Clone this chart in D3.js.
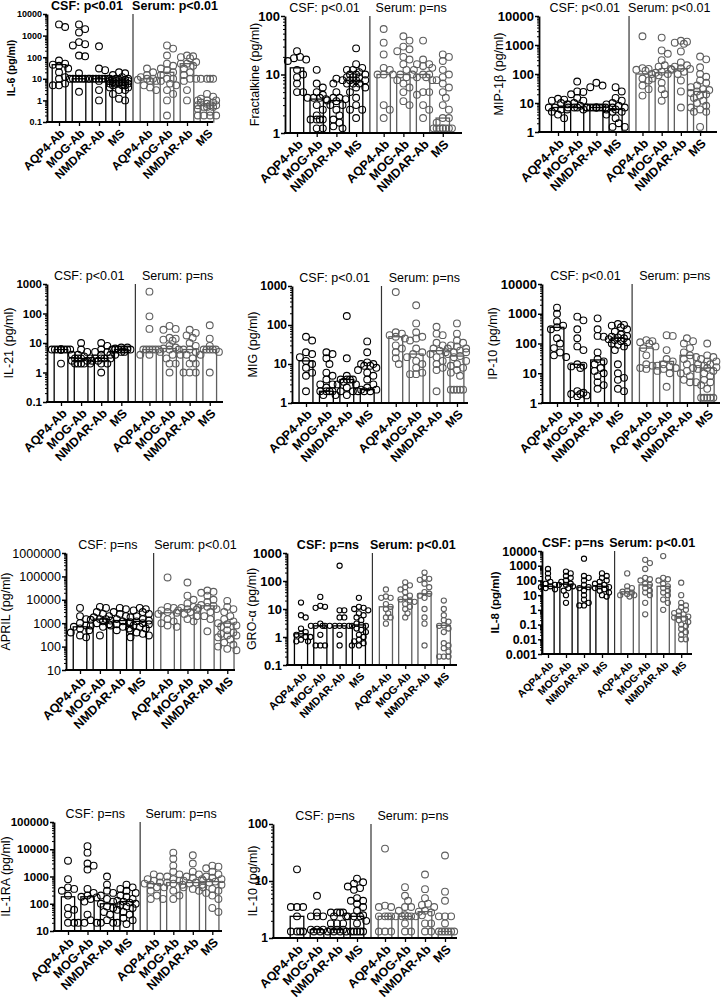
<!DOCTYPE html>
<html>
<head>
<meta charset="utf-8">
<script src="https://cdn.jsdelivr.net/npm/d3@7"></script>
<style>
  body { margin: 0; background: #fff; }
  svg { display: block; font-family: Arial, "Liberation Sans", sans-serif; }
</style>
</head>
<body>
<svg width="721" height="1000"></svg>
<script>
const groups = ["AQP4-Ab", "MOG-Ab", "NMDAR-Ab", "MS"];

// IL-6
const il6Domain = [0.1, 10000];
const il6Titles = ["CSF: p<0.01", "Serum: p<0.01"];
const il6Medians = [45, 10, 10, 8, 10, 20, 50, 0.6];
const il6Values = [
  [3300, 2500, 70, 50, 45, 40, 30, 20, 12, 10, 5, 5, 6],
  [3300, 2000, 1400, 500, 400, 350, 120, 110, 18, 10, 10, 10, 10, 10, 10, 10, 2.5],
  [320, 30, 25, 10, 10, 10, 10, 10, 10, 10, 8, 3, 1],
  [20, 18, 15, 12, 10, 10, 9, 9, 8, 8, 8, 7, 7, 7, 6, 6, 6, 5, 5, 5, 4, 4, 3, 3, 2, 1, 1.2, 8, 9, 10, 7, 6],
  [30, 20, 15, 12, 10, 10, 9, 8, 8, 5, 4, 3],
  [350, 250, 120, 50, 40, 30, 25, 20, 15, 10, 8, 5, 3, 2, 1, 0.2, 10, 6],
  [120, 110, 100, 90, 60, 50, 50, 40, 30, 20, 10, 10, 8, 3, 1, 15],
  [10, 10, 10, 10, 2, 1.5, 1.2, 1, 1, 0.8, 0.7, 0.6, 0.6, 0.5, 0.5, 0.5, 0.4, 0.3, 0.2, 0.2, 0.2, 0.2, 1, 0.8, 0.6]
];

// Fractalkine
const fkDomain = [1, 100];
const fkTitles = ["CSF: p<0.01", "Serum: p=ns"];
const fkMedians = [13, 3.8, 3.6, 7.5, 10, 10, 10, 1.8];
const fkValues = [
  [25, 20, 19, 18, 17, 12, 10, 9, 7, 5, 5],
  [12, 7, 6, 5, 4, 4, 4, 3.8, 3, 2.5, 2, 1.7, 1.7, 1.7, 1.7, 1.2, 1.2, 4.5],
  [8.5, 8, 7, 5, 4, 3.8, 3.5, 3, 3, 2.5, 2, 1.7, 1.5, 1.3, 1.2, 3.6, 4],
  [28, 15, 13, 12, 12, 11, 10, 10, 9, 9, 8, 8, 8, 7, 7, 6, 6, 5, 4, 3, 2.5, 2.5, 1.8, 10, 9, 7],
  [60, 35, 22, 13, 12, 10, 10, 10, 3, 2.5, 1.8],
  [45, 38, 30, 27, 25, 20, 18, 15, 12, 10, 10, 9, 8, 7, 6, 5, 3, 3.5],
  [38, 18, 15, 15, 14, 13, 12, 10, 10, 9, 9, 8, 5, 5, 4.5, 3, 2.5, 1.8],
  [22, 20, 17, 12, 10, 9, 8, 7, 6, 5, 4, 3, 2.5, 1.8, 1.8, 1.2, 1.2, 1.2, 1.2, 1.2, 1.2, 1.2, 1.2, 1.5]
];

// MIP-1b
const mipDomain = [1, 10000];
const mipTitles = ["CSF: p<0.01", "Serum: p<0.01"];
const mipMedians = [7, 7, 7, 6, 100, 110, 150, 25];
const mipValues = [
  [14, 13, 12, 10, 9, 7, 7, 6, 6, 5, 4, 3],
  [55, 25, 24, 20, 15, 12, 10, 9, 8, 7, 7, 7, 7, 6],
  [50, 40, 35, 7, 7, 7, 7, 7, 7, 7, 7, 7],
  [35, 25, 15, 12, 10, 9, 8, 7, 7, 6, 6, 5, 5, 4, 3, 1.5, 1.5, 2],
  [2000, 160, 150, 140, 130, 100, 70, 60, 40, 30, 18],
  [1800, 650, 500, 300, 200, 180, 150, 120, 110, 100, 90, 70, 50, 30, 20, 12],
  [1400, 1300, 1200, 1100, 600, 250, 200, 180, 160, 150, 140, 120, 100, 60, 25, 7],
  [400, 320, 170, 100, 80, 60, 50, 40, 35, 30, 28, 25, 22, 20, 18, 15, 12, 10, 8, 7, 6, 5, 5, 1.5]
];

// IL-21
const il21Domain = [0.1, 1000];
const il21Titles = ["CSF: p<0.01", "Serum: p=ns"];
const il21Medians = [6, 3, 3, 6, 6, 6.5, 6, 6];
const il21Values = [
  [6, 6, 6, 6, 6, 6, 6, 6, 6, 6, 2],
  [10, 6, 5, 4, 4, 3.5, 3, 3, 3, 3, 2.5, 2.5, 2, 2, 2, 2, 2],
  [10, 8, 6, 5, 5, 4, 4, 3, 3, 3, 3, 2.5, 2.5, 2, 2, 1],
  [7, 7, 6.5, 6, 6, 6, 6, 6, 6, 6, 5, 5, 4],
  [550, 80, 30, 6, 6, 6, 6, 6, 6, 4, 4],
  [38, 30, 28, 15, 14, 13, 12, 8, 7, 6.5, 6, 6, 5, 4, 3, 2, 2, 1],
  [28, 22, 18, 15, 10, 8, 6, 6, 5, 4, 4, 3, 2, 2, 1, 1, 1],
  [40, 14, 8, 6, 6, 6, 6, 6, 5, 4, 1]
];

// MIG
const migDomain = [1, 1000];
const migTitles = ["CSF: p<0.01", "Serum: p=ns"];
const migMedians = [12, 2, 4, 2.2, 50, 18, 22, 16];
const migValues = [
  [50, 40, 20, 18, 15, 12, 10, 8, 6, 5, 2],
  [20, 18, 14, 10, 6, 5, 4, 3, 3, 2.5, 2, 2, 2, 2, 1.6, 1.6],
  [170, 14, 5, 4, 4, 4, 4, 3.5, 3, 3, 2.5, 2, 2, 1.6],
  [38, 20, 11, 10, 9, 8, 7, 6, 5, 4, 3, 2.5, 2.2, 2.2, 2, 2, 2, 10, 9],
  [700, 65, 60, 55, 50, 45, 30, 25, 20, 14, 10],
  [320, 110, 65, 50, 45, 40, 25, 20, 18, 15, 12, 10, 8, 6, 5.5, 5.5],
  [90, 60, 55, 35, 30, 25, 22, 20, 18, 15, 12, 10, 8, 7, 2],
  [110, 60, 40, 35, 30, 28, 25, 22, 20, 18, 16, 15, 12, 10, 9, 8, 7, 6, 5, 2.2, 2.2, 2.2, 2.2, 2.2, 20, 25]
];

// IP-10
const ipDomain = [1, 10000];
const ipTitles = ["CSF: p<0.01", "Serum: p=ns"];
const ipMedians = [350, 20, 28, 150, 70, 25, 40, 15];
const ipValues = [
  [1600, 1000, 550, 400, 350, 300, 150, 100, 70, 50, 40, 35],
  [800, 600, 300, 150, 80, 60, 20, 18, 17, 15, 2.5, 2.2, 2, 2, 1.8, 1.7],
  [700, 300, 180, 170, 50, 30, 25, 20, 15, 12, 10, 8, 5, 4, 3],
  [450, 420, 400, 350, 300, 250, 200, 180, 170, 160, 150, 140, 130, 120, 110, 100, 90, 80, 60, 20, 10, 7, 6, 3, 2.5],
  [130, 120, 110, 100, 80, 70, 40, 20, 18, 15, 14],
  [190, 180, 60, 30, 25, 20, 18, 17, 15, 14, 12, 10, 3.5],
  [150, 120, 100, 70, 50, 40, 35, 30, 20, 15, 12, 10, 8, 6, 5, 5],
  [100, 40, 35, 30, 25, 20, 18, 16, 15, 14, 12, 10, 8, 6, 5, 4, 3, 1.5, 1.5, 1.5, 1.5, 1.5, 20, 25]
];

// APRIL
const aprilDomain = [10, 1000000];
const aprilTitles = ["CSF: p=ns", "Serum: p<0.01"];
const aprilMedians = [700, 1500, 1300, 1200, 2800, 3800, 5500, 1000];
const aprilValues = [
  [4500, 2000, 1500, 1000, 800, 700, 600, 500, 400, 300, 250],
  [4500, 5000, 3000, 2500, 2000, 1800, 1500, 1500, 1400, 1200, 1000, 900, 800, 700, 300],
  [4500, 4000, 3000, 2500, 2000, 1500, 1300, 1200, 1000, 900, 800, 700, 600, 500],
  [4500, 4000, 3500, 3000, 2500, 2000, 1800, 1500, 1300, 1200, 1100, 1000, 900, 800, 700, 600, 500, 400, 350, 300, 250],
  [90000, 5000, 4500, 3500, 3000, 2800, 2500, 1500, 1200, 1000, 800, 700],
  [55000, 15000, 10000, 7000, 5000, 4500, 4000, 3800, 3500, 3000, 2500, 2000, 1500, 1200],
  [25000, 22000, 20000, 15000, 10000, 8000, 6000, 5500, 5000, 4500, 4000, 3000, 2000, 1500, 450],
  [9000, 5000, 4000, 3000, 2000, 1500, 1200, 1000, 900, 800, 700, 500, 400, 350, 300, 300, 250, 200, 150, 120, 100, 80, 70]
];

// GRO-alpha
const groDomain = [0.1, 1000];
const groTitles = ["CSF: p=ns", "Serum: p<0.01"];
const groMedians = [1.3, 2.5, 2.5, 2.7, 12, 22, 35, 2.6];
const groValues = [
  [17, 6, 5, 2, 1.5, 1.3, 1.2, 1, 1, 0.8, 0.7, 0.7],
  [27, 13, 12, 11, 3, 2.5, 2.5, 2.5, 2.5, 2.5, 1.2, 0.5, 0.5, 0.5],
  [350, 9, 9, 5, 5, 2.5, 2.5, 2.5, 2.5, 1.2, 0.5],
  [25, 12, 11, 10, 9, 7, 6, 5, 4, 3, 2.7, 2.5, 2.5, 2, 1.8, 1.5, 1.2, 1, 0.8, 0.7, 0.6, 0.5, 0.5],
  [50, 28, 25, 25, 15, 12, 10, 7, 5, 5, 3],
  [90, 70, 60, 50, 40, 30, 25, 22, 20, 18, 15, 12, 10, 7, 5],
  [200, 130, 120, 110, 80, 60, 40, 35, 30, 25, 10, 5, 3, 0.5],
  [20, 10, 6, 4, 3.5, 2.6, 2.5, 2, 1.5, 0.6, 0.5, 0.4, 0.3, 0.2, 0.2, 0.2]
];

// IL-8
const il8Domain = [0.001, 10000];
const il8Titles = ["CSF: p=ns", "Serum: p<0.01"];
const il8Medians = [40, 55, 35, 40, 17, 50, 40, 0.35];
const il8Values = [
  [600, 300, 150, 80, 60, 50, 40, 35, 30, 25],
  [400, 300, 200, 150, 100, 80, 60, 50, 40, 30, 20, 10, 3, 50],
  [3000, 200, 150, 100, 50, 35, 30, 20, 10, 5, 3, 2, 2],
  [300, 200, 150, 100, 80, 60, 50, 40, 35, 30, 25, 20, 15, 10, 8],
  [300, 40, 30, 20, 17, 15, 12, 10, 10, 8],
  [2500, 1500, 600, 150, 120, 100, 60, 50, 30, 20, 15, 10, 3, 0.5],
  [4500, 150, 120, 100, 60, 40, 30, 20, 15, 10, 5, 3, 1],
  [70, 10, 3, 2, 1.5, 1, 0.8, 0.6, 0.5, 0.4, 0.35, 0.3, 0.25, 0.2, 0.15, 0.1, 0.08, 0.05, 0.03, 0.02, 0.01, 0.01]
];

// IL-1RA
const il1raDomain = [10, 100000];
const il1raTitles = ["CSF: p=ns", "Serum: p=ns"];
const il1raMedians = [180, 180, 100, 120, 550, 600, 600, 650];
const il1raValues = [
  [3800, 800, 400, 350, 300, 200, 70, 60, 40, 20, 20],
  [13000, 7500, 3000, 2500, 1800, 350, 250, 200, 180, 170, 150, 120, 40, 25, 20, 20, 20],
  [1000, 500, 300, 250, 200, 150, 120, 100, 80, 70, 50, 40, 25, 20, 20],
  [500, 400, 350, 300, 250, 200, 180, 150, 130, 120, 110, 100, 90, 80, 70, 60, 50, 40, 30, 25, 20, 18],
  [1200, 1000, 800, 700, 600, 550, 500, 400, 300, 200, 150, 150],
  [7500, 4500, 2500, 1500, 1200, 1000, 800, 700, 600, 550, 500, 400, 300, 200, 150],
  [6000, 3000, 1500, 1200, 1000, 900, 800, 700, 600, 550, 500, 400, 350, 300],
  [2500, 2300, 2000, 1500, 1200, 1000, 900, 800, 700, 650, 600, 500, 400, 350, 300, 250, 200, 150, 70, 50]
];

// IL-10
const il10Domain = [1, 100];
const il10Titles = ["CSF: p=ns", "Serum: p=ns"];
const il10Medians = [2.4, 1.4, 1.4, 2.4, 2.4, 2.4, 2.9, 1.3];
const il10Values = [
  [16, 3.5, 3.5, 3.5, 2.4, 1.3, 1.3, 1.3, 1.3],
  [5.5, 2.8, 2.4, 2.4, 2.4, 1.4, 1.4, 1.4, 1.3, 1.3],
  [2.8, 2.8, 2.8, 2.8, 2.4, 2.4, 1.8, 1.8, 1.8, 1.4, 1.4, 1.4, 1.3, 1.3, 1.3, 1.3],
  [11, 9.5, 9, 8, 7.5, 7, 5, 4.5, 4.5, 4, 3.5, 3, 2.5, 2.4, 2.4, 2.4, 2, 1.8, 1.3, 1.3, 1.3, 1.3, 1.3],
  [37, 3.7, 3.5, 3.5, 2.4, 2.4, 2.4, 2.4, 1.3, 1.3, 1.3],
  [7.8, 5.5, 4.5, 3.5, 3.5, 3, 2.5, 2.4, 2.4, 2.4, 2.4, 1.8, 1.3, 1.3],
  [13, 7.2, 5, 4, 3.8, 3.5, 3, 2.9, 2.8, 2.5, 2.4, 1.8, 1.8, 1.3, 1.3],
  [28, 6.5, 4.5, 2.4, 2.4, 2.4, 1.8, 1.3, 1.3, 1.3, 1.3, 1.3, 1.3]
];

const panels = [
  { label: "IL-6 (pg/ml)", domain: il6Domain, titles: il6Titles, medians: il6Medians, values: il6Values },
  { label: "Fractalkine (pg/ml)", domain: fkDomain, titles: fkTitles, medians: fkMedians, values: fkValues },
  { label: "MIP-1β (pg/ml)", domain: mipDomain, titles: mipTitles, medians: mipMedians, values: mipValues },
  { label: "IL-21 (pg/ml)", domain: il21Domain, titles: il21Titles, medians: il21Medians, values: il21Values },
  { label: "MIG (pg/ml)", domain: migDomain, titles: migTitles, medians: migMedians, values: migValues },
  { label: "IP-10 (pg/ml)", domain: ipDomain, titles: ipTitles, medians: ipMedians, values: ipValues },
  { label: "APRIL (pg/ml)", domain: aprilDomain, titles: aprilTitles, medians: aprilMedians, values: aprilValues },
  { label: "GRO-α (pg/ml)", domain: groDomain, titles: groTitles, medians: groMedians, values: groValues },
  { label: "IL-8 (pg/ml)", domain: il8Domain, titles: il8Titles, medians: il8Medians, values: il8Values },
  { label: "IL-1RA (pg/ml)", domain: il1raDomain, titles: il1raTitles, medians: il1raMedians, values: il1raValues },
  { label: "IL-10 (pg/ml)", domain: il10Domain, titles: il10Titles, medians: il10Medians, values: il10Values }
];

// placement and text style of each panel (lx = centre of the y label)
const layout = [
  { x: 47,  top: 14,  bottom: 122, c0: 59,  step: 20,   end: 213, lx: 11,  tf: 9,    tb: true,  ttb: true,  lb: true,  lf: 10.5, xf: 12,   r: 3.4 },
  { x: 285, top: 16,  bottom: 133, c0: 297, step: 19.7, end: 462, lx: 255, tf: 13,   tb: true,  ttb: false, lb: false, lf: 12.5, xf: 12.5, r: 3.4 },
  { x: 539, top: 16,  bottom: 132, c0: 558, step: 19.2, end: 717, lx: 499, tf: 13,   tb: true,  ttb: false, lb: false, lf: 12.5, xf: 12.5, r: 3.4 },
  { x: 47,  top: 284, bottom: 402, c0: 61,  step: 20.1, end: 223, lx: 9,   tf: 11.5, tb: true,  ttb: false, lb: false, lf: 12.5, xf: 12.5, r: 3.4 },
  { x: 292, top: 286, bottom: 403, c0: 306, step: 20.4, end: 468, lx: 253, tf: 12,   tb: true,  ttb: false, lb: false, lf: 12.5, xf: 12.5, r: 3.4 },
  { x: 542, top: 284, bottom: 403, c0: 557, step: 20.3, end: 720, lx: 493, tf: 13,   tb: true,  ttb: false, lb: false, lf: 12.5, xf: 12.5, r: 3.4 },
  { x: 66,  top: 553, bottom: 670, c0: 80,  step: 19.9, end: 235, lx: 6,   tf: 12.5, tb: false, ttb: false, lb: false, lf: 12.5, xf: 12.5, r: 3.4 },
  { x: 287, top: 553, bottom: 665, c0: 301, step: 19.3, end: 457, lx: 252, tf: 13,   tb: true,  ttb: true,  lb: false, lf: 12.5, xf: 11,   r: 2.6 },
  { x: 542, top: 551, bottom: 654, c0: 548, step: 18,   end: 692, lx: 495, tf: 12.5, tb: true,  ttb: true,  lb: true,  lf: 11.5, xf: 10.5, r: 2.6 },
  { x: 54,  top: 822, bottom: 931, c0: 68,  step: 19.5, end: 222, lx: 6,   tf: 11.5, tb: true,  ttb: false, lb: false, lf: 12.5, xf: 12.5, r: 3.4 },
  { x: 273, top: 824, bottom: 938, c0: 297, step: 20,   end: 457, lx: 253, tf: 12,   tb: true,  ttb: false, lb: false, lf: 12.5, xf: 12.5, r: 3.4 }
];

const csfColor = "#000";
const serumColor = "#5e5e5e";
const svg = d3.select("svg");

// spread points of one group sideways so equal values sit in a row
function spread(ys, r, maxOff) {
  const order = d3.range(ys.length).sort((a, b) => ys[a] - ys[b]);
  const cands = [0];
  for (let k = 1; k * r * 0.9 <= maxOff; k++) cands.push(k * r * 0.9, -k * r * 0.9);
  const placed = [];
  const offs = [];
  order.forEach(i => {
    let best = 0, bestD = -1;
    for (const c of cands) {
      let dmin = Infinity;
      placed.forEach(q => { dmin = Math.min(dmin, Math.hypot(q[0] - c, q[1] - ys[i])); });
      if (dmin >= 2 * r * 0.85) { best = c; break; }
      if (dmin > bestD) { bestD = dmin; best = c; }
    }
    offs[i] = best;
    placed.push([best, ys[i]]);
  });
  return offs;
}

function drawPanel(p, L) {
  const g = svg.append("g");
  const y = d3.scaleLog().domain(p.domain).range([L.bottom, L.top]);
  const xCsf = d3.scalePoint().domain(groups).range([L.c0, L.c0 + 3 * L.step]);
  const xSer = d3.scalePoint().domain(groups).range([L.c0 + 4.4 * L.step, L.c0 + 7.4 * L.step]);
  const lo = Math.round(Math.log10(p.domain[0]));
  const hi = Math.round(Math.log10(p.domain[1]));
  const decades = d3.range(lo, hi + 1).map(k => +("1e" + k));
  const minors = [];
  d3.range(lo, hi).forEach(k => { for (let m = 2; m < 10; m++) minors.push(m * +("1e" + k)); });

  // bars and points
  const bw = L.step * 0.68;
  const sections = [
    { x: xCsf, color: csfColor, med: p.medians.slice(0, 4), vals: p.values.slice(0, 4) },
    { x: xSer, color: serumColor, med: p.medians.slice(4), vals: p.values.slice(4) }
  ];
  sections.forEach(s => {
    g.selectAll(null).data(groups).enter().append("rect")
      .attr("x", d => s.x(d) - bw / 2)
      .attr("y", (d, i) => y(s.med[i]))
      .attr("width", bw)
      .attr("height", (d, i) => L.bottom - y(s.med[i]))
      .attr("fill", "#fff")
      .attr("stroke", s.color)
      .attr("stroke-width", 1.3);
    groups.forEach((grp, i) => {
      const ys = s.vals[i].map(v => y(v));
      const offs = spread(ys, L.r, L.step * 0.5);
      g.selectAll(null).data(s.vals[i]).enter().append("circle")
        .attr("cx", (d, j) => s.x(grp) + offs[j])
        .attr("cy", d => y(d))
        .attr("r", L.r)
        .attr("fill", "none")
        .attr("stroke", s.color)
        .attr("stroke-width", 1.1);
    });
  });

  // divider between CSF and serum
  const divX = L.c0 + 3.7 * L.step;
  g.append("line")
    .attr("x1", divX).attr("x2", divX)
    .attr("y1", L.top).attr("y2", L.bottom)
    .attr("stroke", "#333").attr("stroke-width", 1.2);

  // y axis
  g.append("g")
    .attr("transform", `translate(${L.x},0)`)
    .call(d3.axisLeft(y).tickValues(minors).tickSize(2).tickFormat(""))
    .call(a => a.select(".domain").remove())
    .call(a => a.selectAll("line").attr("stroke-width", 1));
  g.append("g")
    .attr("transform", `translate(${L.x},0)`)
    .call(d3.axisLeft(y).tickValues(decades).tickFormat(d => String(d)).tickSize(4).tickSizeOuter(0).tickPadding(1))
    .attr("font-family", null).attr("font-size", null)
    .call(a => a.select(".domain").attr("stroke-width", 1.8))
    .call(a => a.selectAll(".tick line").attr("stroke-width", 1.5))
    .call(a => a.selectAll("text")
      .attr("font-size", L.tf)
      .attr("font-weight", L.tb ? "bold" : "normal")
      .attr("fill", "#000"));

  // x baseline and category axes
  g.append("line")
    .attr("x1", L.x - 1).attr("x2", L.end)
    .attr("y1", L.bottom).attr("y2", L.bottom)
    .attr("stroke", "#000").attr("stroke-width", 1.8);
  [xCsf, xSer].forEach(sc => {
    g.append("g")
      .attr("transform", `translate(0,${L.bottom})`)
      .call(d3.axisBottom(sc).tickSize(4).tickSizeOuter(0))
      .attr("font-family", null).attr("font-size", null)
      .call(a => a.select(".domain").remove())
      .call(a => a.selectAll(".tick line").attr("stroke-width", 1.3))
      .call(a => a.selectAll("text")
        .attr("x", null).attr("y", null).attr("dy", "0.35em")
        .attr("transform", "translate(3,9) rotate(-45)")
        .attr("text-anchor", "end")
        .attr("font-size", L.xf)
        .attr("font-weight", "bold")
        .attr("fill", "#000"));
  });

  // section titles
  const mid = sc => (sc.range()[0] + sc.range()[1]) / 2;
  [xCsf, xSer].forEach((sc, k) => {
    g.append("text")
      .attr("x", mid(sc) - 2)
      .attr("y", L.top - 4)
      .attr("text-anchor", "middle")
      .attr("font-size", 12.5)
      .attr("font-weight", L.ttb ? "bold" : "normal")
      .text(p.titles[k]);
  });

  // y label
  g.append("text")
    .attr("transform", `translate(${L.lx},${(L.top + L.bottom) / 2}) rotate(-90)`)
    .attr("dy", "0.35em")
    .attr("text-anchor", "middle")
    .attr("font-size", L.lf)
    .attr("font-weight", L.lb ? "bold" : "normal")
    .text(p.label);
}

panels.forEach((p, i) => drawPanel(p, layout[i]));
</script>
</body>
</html>
